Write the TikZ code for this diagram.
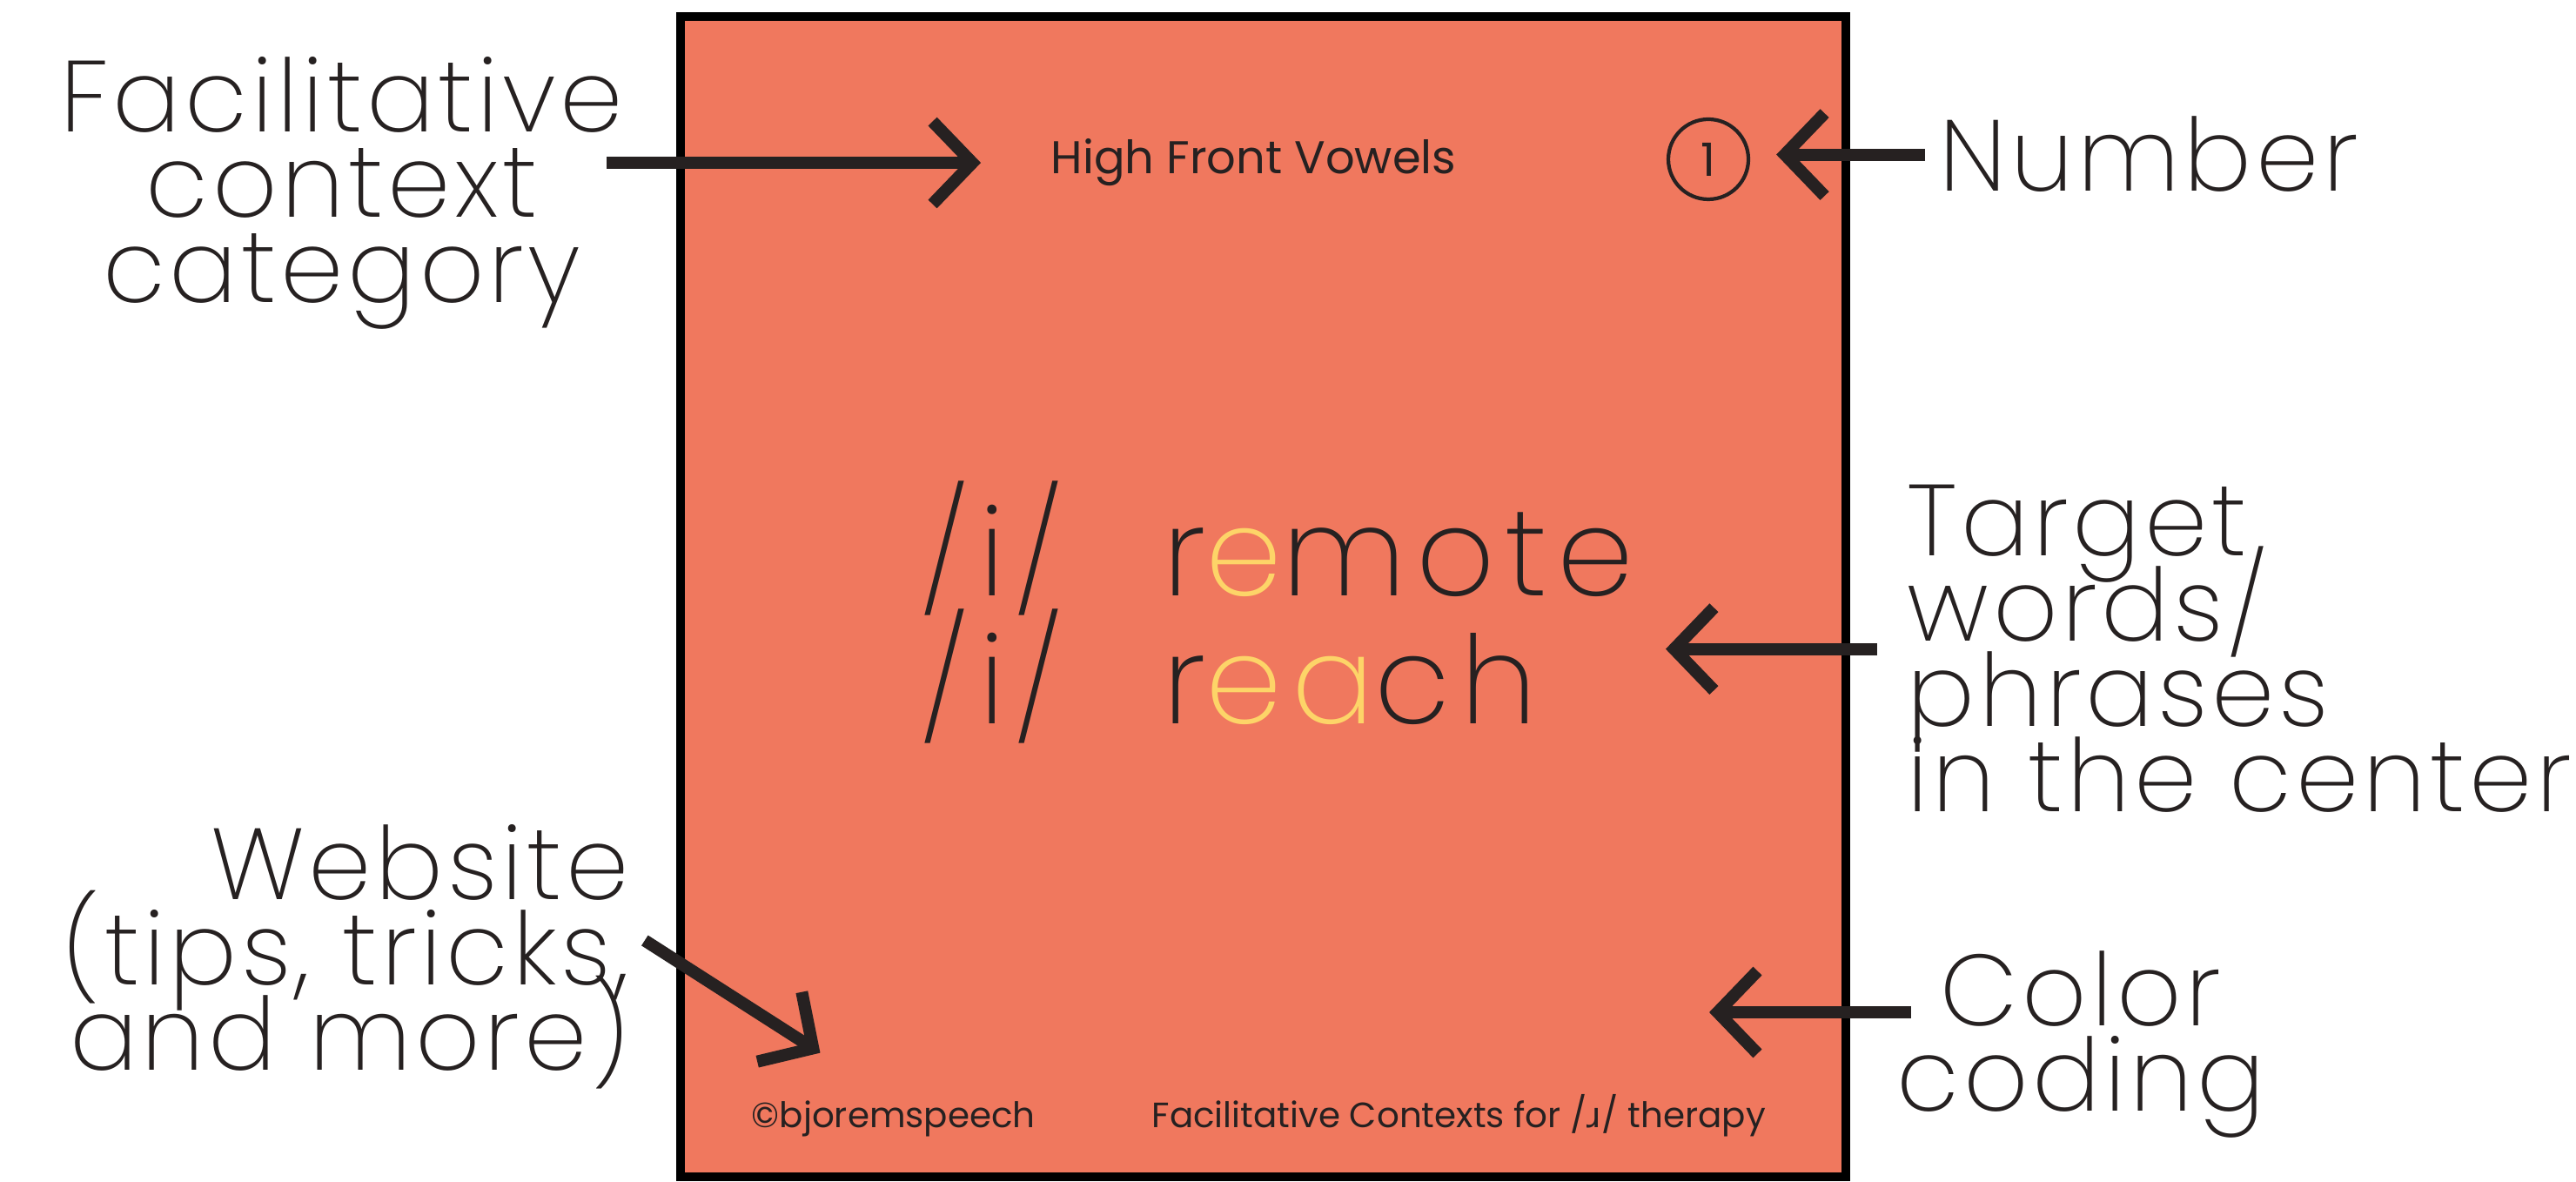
\documentclass[tikz,border=0pt]{standalone}
\usepackage{fontspec}
\setmainfont{Poppins}
\newfontfamily\lightfont{Poppins ExtraLight}[LetterSpace=4]
\newfontfamily\wordfont{Poppins ExtraLight}[LetterSpace=8]
\newfontfamily\ipafont{DejaVu Sans}
\newcommand\capfont{\lightfont\fontsize{33}{27.9}\selectfont\lineskiplimit=-50pt\relax}
\usepackage{tikz}
\usetikzlibrary{arrows.meta}
\definecolor{cardfill}{RGB}{240,120,94}
\definecolor{hilite}{RGB}{253,212,104}
\definecolor{ink}{RGB}{38,33,33}
\tikzset{card/.style = {draw = black, line width = 3pt, fill = cardfill}}
\tikzset{pointer/.style = {draw = ink, line width = 4pt, -{Straight Barb[length = 13pt, width = 27pt]}}}
\tikzset{caption/.style = {inner sep = 0, text = ink, font = \capfont}}
\tikzset{tag/.style = {inner sep = 0, text = ink, font = \fontsize{11.5}{14}\selectfont}}
\tikzset{phoneme/.style = {inner sep = 0, text = ink, font = \wordfont\fontsize{40}{48}\selectfont}}
\tikzset{badge/.style = {draw = ink, circle, line width = 1.2pt, minimum size = 0.92cm, inner sep = 0, text = ink, font = \fontsize{15}{18}\selectfont}}

\begin{document}
\begin{tikzpicture}
  \useasboundingbox (0, 0) rectangle (29.60, 13.57);

  % the card
  \draw [card] (7.82, 0.05) rectangle (21.21, 13.38);

  \node [tag, anchor = base west, font = \fontsize{15}{18}\selectfont] (topic) at (12.07, 11.57) {High Front Vowels};
  \node [badge] (badge) at (19.63, 11.74) {1};

  \node [phoneme, anchor = base west] (phone1) at (10.57, 6.72) {/i/};
  \node [phoneme, anchor = base west] (word1) at (13.36, 6.72) {r\textcolor{hilite}{e}mote};
  \node [phoneme, anchor = base west] (phone2) at (10.57, 5.25) {/i/};
  \node [phoneme, anchor = base west] (word2) at (13.36, 5.25) {r\textcolor{hilite}{ea}ch};

  \node [tag, anchor = base west] (handle) at (8.63, 0.62) {©bjoremspeech};
  \node [tag, anchor = base west] (footer) at (13.23, 0.62) {Facilitative Contexts for /{\ipafont ɹ}/ therapy};

  % labels round the card (base = last line)
  \node [caption, align = center, anchor = base] (category) at (3.93, 10.09) {Facilitative\\context\\category};
  \node [caption, anchor = base west] (numlabel) at (22.28, 11.37) {Number};
  \node [caption, align = left, anchor = base west] (targetlabel) at (21.91, 4.24) {Target\\words/\\phrases\\in the center};
  \node [caption, align = center, anchor = base] (colorlabel) at (23.91, 0.80) {Color\\coding};
  \node [caption, align = right, anchor = base east] (website) at (7.24, 1.27) {Website\\(tips, tricks,\\and more)};
  \coordinate (colortip) at (19.64, 1.94);

  \draw [pointer, shorten <= -2mm, shorten >= 8mm] (category.east |- topic.west) -- (topic.west);
  \draw [pointer, shorten <= 1.6mm, shorten >= 3mm] (numlabel.west) -- (numlabel.west -| badge.east);
  \draw [pointer, shorten <= 3.4mm, shorten >= 3.6mm] (targetlabel.west) -- (targetlabel.west -| word1.east);
  \draw [pointer] ([xshift = 1.7mm]colorlabel.west |- colortip) -- (colortip);
  \draw [pointer, shorten <= 2mm, shorten >= 10mm] ([yshift = 3mm]website.east) -- (handle.north);
\end{tikzpicture}
\end{document}
